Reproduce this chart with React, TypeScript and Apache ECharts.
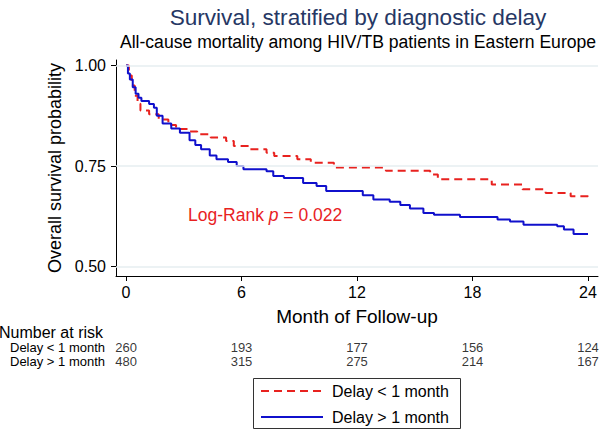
import React, { useEffect, useRef } from "react";
import * as echarts from "echarts";

// ---- data ----
const months = [0, 6, 12, 18, 24];
const yTicks = [0.5, 0.75, 1.0];
const groupNames = ["Delay < 1 month", "Delay > 1 month"];
const riskEarly = [260, 193, 177, 156, 124];
const riskLate = [480, 315, 275, 214, 167];

// Kaplan-Meier estimates (time in months, survival after the step)
const earlyTime = [0, 0.15, 0.3, 0.45, 0.6, 0.75, 1.2, 1.7, 2.2, 2.6, 3.2, 3.7, 4.4, 5.2, 5.6, 6.4, 7.3, 7.7, 8.9, 9.6, 10.8, 13.5, 15.8, 16.2, 19.0, 20.6, 21.8, 23.1, 24.0];
const earlySurv = [1.0, 0.975, 0.95, 0.925, 0.905, 0.888, 0.879, 0.866, 0.852, 0.842, 0.836, 0.829, 0.821, 0.812, 0.8, 0.792, 0.783, 0.775, 0.767, 0.758, 0.746, 0.738, 0.729, 0.717, 0.704, 0.692, 0.683, 0.675, 0.673];
const lateTime = [0, 0.1, 0.2, 0.35, 0.5, 0.65, 0.8, 1.2, 1.45, 1.6, 1.9, 2.35, 2.8, 3.3, 3.6, 3.9, 4.35, 4.7, 5.3, 5.75, 6.1, 7.3, 7.65, 8.2, 9.2, 9.9, 10.4, 12.3, 12.85, 13.7, 14.25, 14.75, 15.45, 16.0, 17.35, 19.3, 19.95, 20.65, 22.4, 22.75, 23.25, 24.0];
const lateSurv = [1.0, 0.98, 0.965, 0.946, 0.93, 0.92, 0.912, 0.904, 0.895, 0.875, 0.856, 0.843, 0.833, 0.814, 0.802, 0.792, 0.776, 0.767, 0.76, 0.75, 0.742, 0.737, 0.725, 0.72, 0.708, 0.7, 0.688, 0.677, 0.667, 0.661, 0.653, 0.644, 0.633, 0.629, 0.623, 0.617, 0.612, 0.604, 0.6, 0.592, 0.581, 0.58];

const RED = "#e8221f";
const BLUE = "#1010cc";
const FONT = "'Liberation Sans', Arial, Helvetica, sans-serif";

export default function App() {
  const ref = useRef<HTMLDivElement>(null);

  useEffect(() => {
    if (!ref.current) return;
    const chart = echarts.init(ref.current, null, { renderer: "svg" });
    const xMin = -0.52;
    const xMax = 24.52;

    const riskLabel = {
      show: true,
      position: "inside",
      formatter: (p: any) => String(p.value[2]),
      fontSize: 13,
      color: "#000",
      fontFamily: FONT,
    };

    const legendBase = {
      orient: "horizontal",
      left: 260,
      padding: 0,
      itemWidth: 62,
      itemHeight: 18,
      itemStyle: { color: "rgba(0,0,0,0)", borderWidth: 0, opacity: 0 },
      textStyle: { fontSize: 16, lineHeight: 18, color: "#000", fontFamily: FONT, padding: [0, 0, 0, 4] },
    };

    const option: any = {
      animation: false,
      backgroundColor: "#ffffff",
      textStyle: { fontFamily: FONT },
      grid: [
        { left: 116, top: 60, width: 482, height: 216 },
        { left: 116, top: 340, width: 482, height: 28 },
      ],
      xAxis: [
        {
          type: "value",
          gridIndex: 0,
          min: xMin,
          max: xMax,
          name: "Month of Follow-up",
          nameLocation: "middle",
          nameGap: 31,
          nameTextStyle: { fontSize: 19, color: "#000", fontFamily: FONT },
          axisLine: { show: true, onZero: false, lineStyle: { color: "#000", width: 1 } },
          axisTick: { show: true, customValues: months, length: 5, lineStyle: { color: "#000", width: 1 } },
          axisLabel: { customValues: months, fontSize: 16, color: "#000", margin: 8, fontFamily: FONT },
          splitLine: { show: false },
        },
        {
          type: "value",
          gridIndex: 1,
          min: xMin,
          max: xMax,
          show: false,
        },
      ],
      yAxis: [
        {
          type: "value",
          gridIndex: 0,
          min: 0.4764,
          max: 1.0137,
          name: "Overall survival probability",
          nameLocation: "middle",
          nameGap: 52,
          nameTextStyle: { fontSize: 18, color: "#000", fontFamily: FONT },
          axisLine: { show: true, onZero: false, lineStyle: { color: "#000", width: 1 } },
          axisTick: { show: true, customValues: yTicks, length: 5, lineStyle: { color: "#000", width: 1 } },
          axisLabel: {
            customValues: yTicks,
            fontSize: 16,
            color: "#000",
            margin: 10,
            fontFamily: FONT,
            formatter: (v: number) => v.toFixed(2),
          },
          splitLine: { show: false },
        },
        {
          type: "category",
          gridIndex: 1,
          data: groupNames,
          inverse: true,
          axisLine: { show: false },
          axisTick: { show: false },
          axisLabel: { interval: 0, align: "left", margin: 106, fontSize: 13, color: "#000", fontFamily: FONT },
        },
      ],
      legend: [
        { ...legendBase, data: [groupNames[0]], top: 382 },
        { ...legendBase, data: [groupNames[1]], top: 408 },
      ],
      series: [
        {
          type: "line",
          name: "grid",
          xAxisIndex: 0,
          yAxisIndex: 0,
          data: [],
          z: 1,
          silent: true,
          markLine: {
            silent: true,
            symbol: ["none", "none"],
            label: { show: false },
            lineStyle: { color: "#e6eef0", width: 1.5, type: "solid" },
            data: yTicks.map((v) => ({ yAxis: v })),
          },
        },
        {
          type: "line",
          name: groupNames[0],
          xAxisIndex: 0,
          yAxisIndex: 0,
          data: earlyTime.map((t, i) => [t, earlySurv[i]]),
          step: "end",
          symbol: "none",
          showSymbol: false,
          z: 3,
          lineStyle: { color: RED, width: 2, type: [8, 5] },
          itemStyle: { color: RED },
        },
        {
          type: "line",
          name: groupNames[1],
          xAxisIndex: 0,
          yAxisIndex: 0,
          data: lateTime.map((t, i) => [t, lateSurv[i]]),
          step: "end",
          symbol: "none",
          showSymbol: false,
          z: 3,
          lineStyle: { color: BLUE, width: 2, type: "solid" },
          itemStyle: { color: BLUE },
        },
        {
          type: "scatter",
          name: "riskEarly",
          xAxisIndex: 1,
          yAxisIndex: 1,
          symbolSize: 1,
          itemStyle: { color: "rgba(0,0,0,0)" },
          data: riskEarly.map((n, i) => [months[i], groupNames[0], n]),
          label: riskLabel,
        },
        {
          type: "scatter",
          name: "riskLate",
          xAxisIndex: 1,
          yAxisIndex: 1,
          symbolSize: 1,
          itemStyle: { color: "rgba(0,0,0,0)" },
          data: riskLate.map((n, i) => [months[i], groupNames[1], n]),
          label: riskLabel,
        },
      ],
      graphic: [
        {
          type: "rect",
          shape: { x: 253.5, y: 378.5, width: 207, height: 50 },
          style: { fill: "none", stroke: "#333", lineWidth: 1 },
          silent: true,
        },
        {
          type: "text",
          x: 358,
          y: 17,
          style: {
            text: "Survival, stratified by diagnostic delay",
            fontSize: 22.6,
            fontFamily: FONT,
            fill: "#263764",
            align: "center",
            verticalAlign: "middle",
          },
        },
        {
          type: "text",
          x: 358,
          y: 42,
          style: {
            text: "All-cause mortality among HIV/TB patients in Eastern Europe",
            fontSize: 17.6,
            fontFamily: FONT,
            fill: "#000",
            align: "center",
            verticalAlign: "middle",
          },
        },
        {
          type: "text",
          x: -1,
          y: 332,
          style: {
            text: "Number at risk",
            fontSize: 16,
            fontFamily: FONT,
            fill: "#000",
            align: "left",
            verticalAlign: "middle",
          },
        },
        {
          type: "text",
          x: 188,
          y: 215,
          style: {
            text: "{a|Log-Rank }{b|p}{a| = 0.022}",
            align: "left",
            verticalAlign: "middle",
            rich: {
              a: { fontSize: 17.5, fontFamily: FONT, fill: RED, color: RED },
              b: { fontSize: 17.5, fontFamily: FONT, fill: RED, color: RED, fontStyle: "italic" },
            },
          },
        },
      ],
    };

    chart.setOption(option);
    return () => chart.dispose();
  }, []);

  return (
    <div
      ref={ref}
      style={{ position: "absolute", left: 0, top: 0, width: 602, height: 430 }}
    />
  );
}
